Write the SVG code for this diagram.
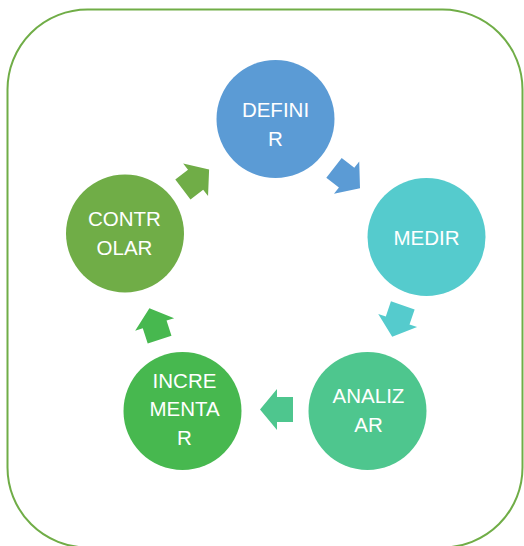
<svg xmlns="http://www.w3.org/2000/svg" width="524" height="546" viewBox="0 0 524 546">
<defs>
<style>
.t{font-family:"Liberation Sans",Arial,sans-serif;font-size:20.5px;fill:#fff;text-anchor:middle}
</style>
<path id="arr" d="M-16.5,-12.5 H-0.5 V-20.5 L16.5,0 L-0.5,20.5 V12.5 H-16.5 Z"/>
</defs>
<rect x="0" y="0" width="524" height="546" fill="#fff"/>
<rect x="7.5" y="9.5" width="515" height="538" rx="80" ry="80" fill="#fff" stroke="#70AD47" stroke-width="2"/>
<g id="connectors">
<use href="#arr" fill="#5B9BD5" transform="translate(347,178) rotate(38)"/>
<use href="#arr" fill="#55CBCD" transform="translate(397.5,321) rotate(108.7)"/>
<use href="#arr" fill="#4EC68E" transform="translate(276.5,409.5) rotate(180)"/>
<use href="#arr" fill="#47B84F" transform="translate(154.5,324) rotate(-108)"/>
<use href="#arr" fill="#70AD47" transform="translate(196,179.5) rotate(-37.4)"/>
</g>
<g id="definir">
<circle cx="275.5" cy="119" r="59" fill="#5B9BD5"/>
<text class="t" x="275.5" y="116.5">DEFINI</text>
<text class="t" x="275.5" y="145.5">R</text>
</g>
<g id="medir">
<circle cx="426.5" cy="237" r="59" fill="#55CBCD"/>
<text class="t" x="426.5" y="245">MEDIR</text>
</g>
<g id="analizar">
<circle cx="367.5" cy="411" r="59" fill="#4EC68E"/>
<text class="t" x="368.5" y="402.5">ANALIZ</text>
<text class="t" x="368.5" y="431.5">AR</text>
</g>
<g id="incrementar">
<circle cx="182.5" cy="411" r="59" fill="#47B84F"/>
<text class="t" x="184.5" y="387.5">INCRE</text>
<text class="t" x="184.5" y="416">MENTA</text>
<text class="t" x="184.5" y="445">R</text>
</g>
<g id="controlar">
<circle cx="125" cy="233.5" r="59" fill="#70AD47"/>
<text class="t" x="124.5" y="226">CONTR</text>
<text class="t" x="124.5" y="254.5">OLAR</text>
</g>
</svg>
